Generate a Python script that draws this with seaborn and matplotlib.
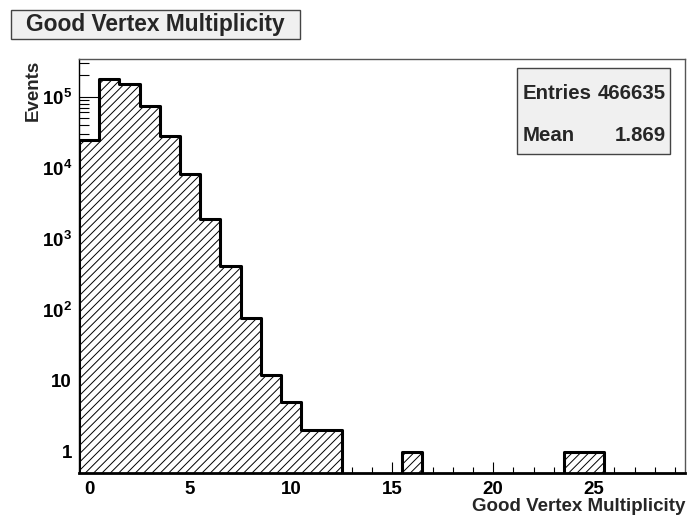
import numpy as np
import pandas as pd
import matplotlib
matplotlib.use("Agg")
import matplotlib.pyplot as plt
from matplotlib.patches import Rectangle
from matplotlib.ticker import FixedLocator, FixedFormatter, LogLocator, NullFormatter, MultipleLocator
import seaborn as sns

# Number of good reconstructed vertices per event and the event counts
multiplicity = [0, 1, 2, 3, 4, 5, 6, 7, 8, 9, 10, 11, 12, 16, 24, 25]
events = [24638, 177486, 151000, 75000, 28000, 8100, 1900, 410, 77, 12, 5, 2, 2, 1, 1, 1]

title = "Good Vertex Multiplicity"
x_title = "Good Vertex Multiplicity"
y_title = "Events"
stat_names = ["Entries", "Mean"]
stat_values = ["466635", "1.869"]

x_ticks = [0, 5, 10, 15, 20, 25]
y_ticks = [1, 10, 100, 1000, 10000, 100000]
y_tick_labels = ["1", "10", r"$\mathbf{10^{2}}$", r"$\mathbf{10^{3}}$",
                 r"$\mathbf{10^{4}}$", r"$\mathbf{10^{5}}$"]

sns.set_theme(style="ticks")
plt.rcParams["font.family"] = ["Liberation Sans", "DejaVu Sans"]
plt.rcParams["font.weight"] = "bold"
plt.rcParams["mathtext.fontset"] = "custom"
plt.rcParams["mathtext.bf"] = "Liberation Sans:bold"
plt.rcParams["mathtext.rm"] = "Liberation Sans:bold"
plt.rcParams["hatch.linewidth"] = 0.7
plt.rcParams["hatch.color"] = "#222222"

W, H = 687, 515
fig = plt.figure(figsize=(W / 100, H / 100), dpi=100)
fig.patch.set_facecolor("white")
ax = fig.add_axes([79 / W, (H - 473) / H, (685 - 79) / W, (473 - 59) / H])

df = pd.DataFrame({"multiplicity": multiplicity, "events": events})
sns.histplot(data=df, x="multiplicity", weights="events",
             binwidth=1.0, binrange=(-0.5, 29.5), element="step", fill=True,
             facecolor="white", edgecolor="black", linewidth=2.2,
             hatch="////", alpha=1.0, ax=ax)

ax.set_yscale("log")
ax.set_xlim(-0.5, 29.5)
ax.set_ylim(0.5, 3.4e5)

ax.xaxis.set_major_locator(FixedLocator(x_ticks))
ax.xaxis.set_minor_locator(MultipleLocator(1))
ax.yaxis.set_major_locator(FixedLocator(y_ticks))
ax.yaxis.set_major_formatter(FixedFormatter(y_tick_labels))
ax.yaxis.set_minor_locator(LogLocator(base=10, subs=np.arange(2, 10)))
ax.yaxis.set_minor_formatter(NullFormatter())

ax.tick_params(axis="both", which="both", direction="in", width=0.8,
               colors="black", top=False, right=False)
ax.tick_params(axis="x", which="major", length=8, pad=5.5, labelsize=13.5)
ax.tick_params(axis="x", which="minor", length=4.3)
ax.tick_params(axis="y", which="major", length=14.4, pad=5, labelsize=13.5)
ax.tick_params(axis="y", which="minor", length=7.2)
for lab in ax.get_xticklabels() + ax.get_yticklabels():
    lab.set_fontweight("bold")

ax.set_xlabel("")
ax.set_ylabel("")
for side in ["top", "right"]:
    ax.spines[side].set_color("#555555")
    ax.spines[side].set_linewidth(1.0)
ax.spines["left"].set_color("black")
ax.spines["left"].set_linewidth(1.0)
ax.spines["bottom"].set_color("black")
ax.spines["bottom"].set_linewidth(2.0)

# Axis titles at the far ends of the axes
fig.text(685 / W, (H - 511) / H, x_title, ha="right", va="baseline",
         fontsize=13.5, fontweight="bold")
fig.text(42 / W, 1 - 60 / H, y_title, rotation=90, ha="right", va="top",
         fontsize=13.5, fontweight="bold")

# Title box
fig.patches.append(Rectangle((11 / W, 1 - 39 / H), 289 / W, 29 / H,
                             transform=fig.transFigure, facecolor="#f0f0f0",
                             edgecolor="#444444", linewidth=1.0))
fig.text(155.5 / W, 1 - 31.5 / H, title, ha="center", va="baseline",
         fontsize=16.4, fontweight="bold")

# Statistics box
fig.patches.append(Rectangle((517 / W, 1 - 154 / H), 153 / W, 86 / H,
                             transform=fig.transFigure, facecolor="#f0f0f0",
                             edgecolor="#444444", linewidth=1.0))
for i, (name, val) in enumerate(zip(stat_names, stat_values)):
    yb = 1 - (99.3 + 41.7 * i) / H
    fig.text(523 / W, yb, name, ha="left", va="baseline", fontsize=14.7,
             fontweight="bold")
    fig.text(666 / W, yb, val, ha="right", va="baseline", fontsize=14.7,
             fontweight="bold")

fig.savefig("out.png", dpi=100)
